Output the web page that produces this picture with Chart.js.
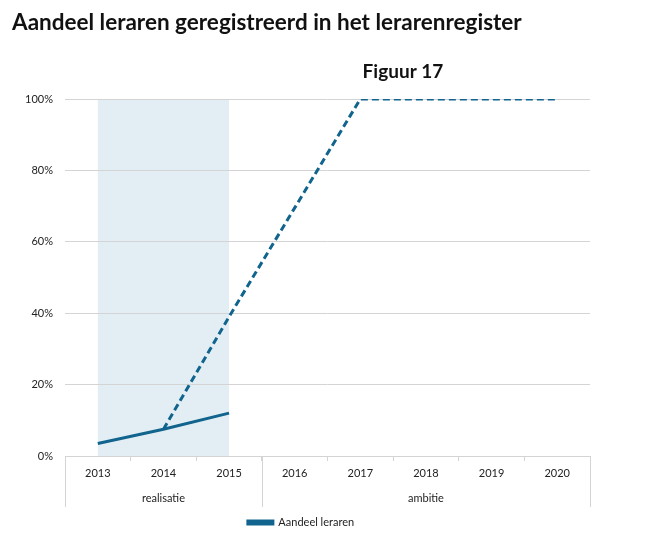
<!DOCTYPE html>
<html>
<head>
<meta charset="utf-8">
<script src="https://cdn.jsdelivr.net/npm/chart.js@4/dist/chart.umd.min.js"></script>
<style>
    html, body { margin: 0; padding: 0; background: #fff; }
    #wrap { width: 656px; height: 542px; }
</style>
</head>
<body>
<div id="wrap"><canvas id="chart"></canvas></div>
<script>
(function () {
    var years = ['2013', '2014', '2015', '2016', '2017', '2018', '2019', '2020'];
    var realisatie = [3.5, 7.5, 12, null, null, null, null, null];
    var ambitie = [null, 7.5, 39, 69.5, 100, 100, 100, 100];
    var groups = [
        { label: 'realisatie', from: 0, to: 2 },
        { label: 'ambitie', from: 3, to: 7 }
    ];
    var yTicks = [0, 20, 40, 60, 80, 100];

    var lineColor = '#11648d';
    var shadeColor = '#e2eef4';
    var gridColor = '#d4d4d4';
    var fontFamily = 'Lato, "Open Sans", sans-serif';

    // light band behind the realised years, drawn before the grid
    var shadePlugin = {
        id: 'shade',
        beforeDraw: function (chart) {
            var ctx = chart.ctx;
            var x = chart.scales.x;
            var area = chart.chartArea;
            ctx.save();
            ctx.fillStyle = '#fff';
            ctx.fillRect(0, 0, chart.width, chart.height);
            ctx.fillStyle = shadeColor;
            var left = x.getPixelForValue(0);
            var right = x.getPixelForValue(2);
            ctx.fillRect(left, area.top, right - left, area.bottom - area.top);
            ctx.restore();
        }
    };

    // group labels under the years, separators and the figure number
    var groupPlugin = {
        id: 'groups',
        afterDraw: function (chart) {
            var ctx = chart.ctx;
            var x = chart.scales.x;
            var area = chart.chartArea;
            var half = (x.getPixelForValue(1) - x.getPixelForValue(0)) / 2;
            ctx.save();
            ctx.strokeStyle = gridColor;
            ctx.lineWidth = 1;
            var edges = [x.getPixelForValue(0) - half];
            groups.forEach(function (g) {
                edges.push(x.getPixelForValue(g.to) + half);
            });
            edges.forEach(function (px) {
                px = Math.round(px) + 0.5;
                ctx.beginPath();
                ctx.moveTo(px, area.bottom);
                ctx.lineTo(px, area.bottom + 51);
                ctx.stroke();
            });
            ctx.fillStyle = '#222';
            ctx.font = '11px ' + fontFamily;
            ctx.textAlign = 'center';
            ctx.textBaseline = 'middle';
            groups.forEach(function (g) {
                var mid = (x.getPixelForValue(g.from) + x.getPixelForValue(g.to)) / 2;
                ctx.fillText(g.label, mid, area.bottom + 42);
            });
            ctx.font = 'bold 19px ' + fontFamily;
            ctx.fillStyle = '#111';
            ctx.fillText('Figuur 17', 403, 72);
            ctx.restore();
        }
    };

    new Chart(document.getElementById('chart').getContext('2d'), {
        type: 'line',
        data: {
            labels: years,
            datasets: [
                {
                    label: 'Aandeel leraren',
                    data: realisatie,
                    borderColor: lineColor,
                    backgroundColor: lineColor,
                    borderWidth: 3,
                    pointRadius: 0,
                    tension: 0
                },
                {
                    label: 'Ambitie',
                    data: ambitie,
                    borderColor: lineColor,
                    backgroundColor: lineColor,
                    borderWidth: 3,
                    borderDash: [7, 4],
                    pointRadius: 0,
                    tension: 0
                }
            ]
        },
        options: {
            responsive: true,
            maintainAspectRatio: false,
            animation: false,
            layout: { padding: { left: 12, right: 66, top: 5, bottom: 4 } },
            plugins: {
                title: {
                    display: true,
                    text: 'Aandeel leraren geregistreerd in het lerarenregister',
                    align: 'start',
                    color: '#111',
                    font: { family: fontFamily, size: 22.5, weight: 'bold' },
                    padding: { top: 4, bottom: 63 }
                },
                legend: {
                    position: 'bottom',
                    labels: {
                        filter: function (item) { return item.datasetIndex === 0; },
                        boxWidth: 25,
                        boxHeight: 3,
                        color: '#222',
                        font: { family: fontFamily, size: 11 }
                    }
                },
                tooltip: { enabled: false }
            },
            scales: {
                x: {
                    offset: true,
                    grid: {
                        offset: true,
                        drawOnChartArea: false,
                        drawTicks: true,
                        tickLength: 5,
                        color: gridColor
                    },
                    border: { color: gridColor },
                    ticks: {
                        color: '#222',
                        padding: 6,
                        font: { family: fontFamily, size: 11 }
                    },
                    afterFit: function (scale) { scale.height = 51; }
                },
                y: {
                    min: 0,
                    max: 100,
                    afterBuildTicks: function (scale) {
                        scale.ticks = yTicks.map(function (v) { return { value: v }; });
                    },
                    grid: { color: gridColor, drawTicks: false },
                    border: { display: false },
                    ticks: {
                        color: '#222',
                        padding: 12,
                        font: { family: fontFamily, size: 11 },
                        callback: function (v) { return v + '%'; }
                    },
                    afterFit: function (scale) { scale.width = 53; }
                }
            }
        },
        plugins: [shadePlugin, groupPlugin]
    });
})();
</script>
</body>
</html>
